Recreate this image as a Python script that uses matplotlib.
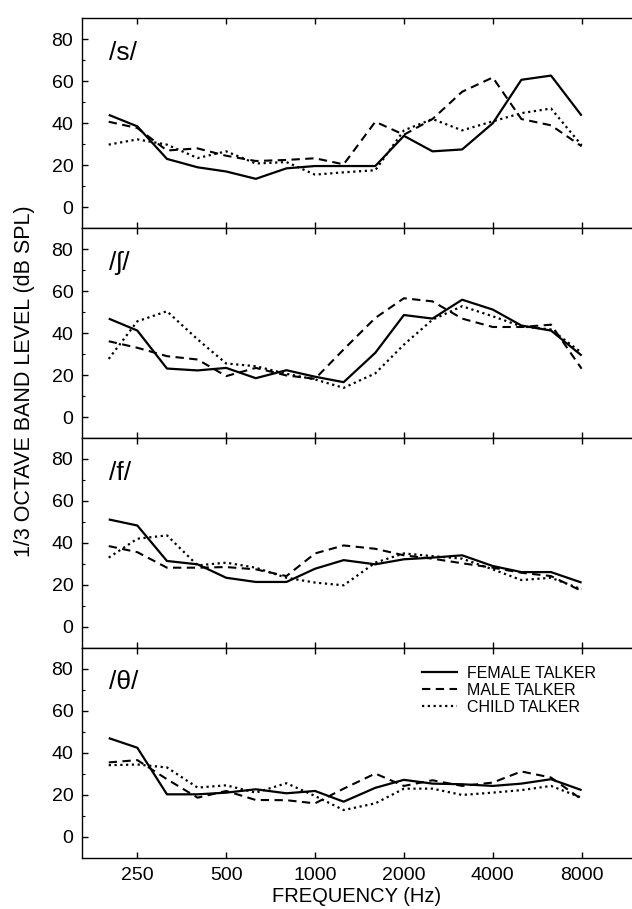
import matplotlib
matplotlib.use("Agg")
import matplotlib.pyplot as plt
from matplotlib.ticker import FixedLocator, NullLocator, NullFormatter
import matplotlib.lines as mlines

plt.rcParams['font.family'] = ['Liberation Sans', 'DejaVu Sans']

freqs = [200, 250, 315, 400, 500, 630, 800, 1000, 1250, 1600, 2000, 2500, 3150, 4000, 5000, 6300, 8000]

panel_labels = ["/s/", "/\u0283/", "/f/", "/\u03b8/"]

female_s = [44, 38.5, 23, 19, 17, 13.5, 18.5, 19.6, 19.6, 19.6, 34, 26.6, 27.5, 40, 60.7, 62.7, 43.6]
male_s = [40.7, 37.7, 27, 28, 24.5, 22, 22.5, 23.3, 20.4, 40.7, 34.5, 42, 55, 61.8, 42, 39, 29]
child_s = [29.8, 32.3, 29.8, 23.4, 26.6, 20.8, 21.5, 15.5, 16.6, 17.6, 36.6, 42, 36.6, 40.9, 44.8, 47, 29.5]

female_sh = [46.9, 41.2, 23.1, 22.2, 23.4, 18.5, 22.3, 19.2, 16.6, 30.6, 48.6, 46.9, 55.9, 51.2, 43.6, 41.2, 29.3]
male_sh = [36.1, 33, 29, 27.4, 19.5, 23.4, 19.8, 18.2, 32.2, 47.2, 56.6, 55.1, 46.9, 42.9, 42.9, 44, 23]
child_sh = [27.7, 45.6, 50.4, 37, 25.5, 24.2, 20.6, 17.9, 13.9, 20.8, 34.5, 46.4, 52.8, 48, 43.2, 41.7, 30.6]

female_f = [51.2, 48.3, 31.4, 29.8, 23.4, 21.4, 21.4, 27.7, 31.8, 29.8, 32.2, 33, 34.1, 29, 26.1, 26.1, 21.1]
male_f = [38.5, 35.6, 28.2, 28.2, 28.5, 27.4, 24.2, 35, 38.8, 37.2, 34.1, 32.5, 30.3, 28.2, 25.8, 24.2, 17.1]
child_f = [33, 42, 43.6, 29.3, 30.6, 28.2, 23.4, 21.1, 19.8, 30.6, 35, 33.7, 32.5, 27.4, 22.3, 23.4, 17.9]

female_th = [47, 42.4, 20.2, 20.2, 21, 22.6, 20.7, 21.8, 16.7, 23.3, 27.1, 25.3, 25, 24.2, 25.3, 27.4, 22.2]
male_th = [35.4, 36.5, 27.4, 18.6, 21.8, 17.5, 17.4, 15.9, 22.9, 30.1, 24.2, 26.9, 24.2, 25.8, 31.1, 28.2, 17.8]
child_th = [34.1, 34.4, 33, 23.4, 24.5, 21, 25.5, 19.4, 12.7, 15.9, 22.9, 22.9, 19.9, 21, 22.2, 24.2, 18.6]

panels = [
    (female_s, male_s, child_s),
    (female_sh, male_sh, child_sh),
    (female_f, male_f, child_f),
    (female_th, male_th, child_th),
]

xticks = [250, 500, 1000, 2000, 4000, 8000]
xticklabels = ["250", "500", "1000", "2000", "4000", "8000"]
yticks = [0, 20, 40, 60, 80]
series_names = ["FEMALE TALKER", "MALE TALKER", "CHILD TALKER"]

W, H = 632, 909
fig = plt.figure(figsize=(W / 100, H / 100), dpi=100)

left = 81.7 / W
width = 1.0 - left
ph = 209.85 / H
bottom0 = 1 - 857.7 / H

styles = [
    dict(linestyle='-', lw=1.6),
    dict(linestyle=(0, (4, 2.6)), lw=1.5),
    dict(linestyle=(0, (1, 1.6)), lw=1.6),
]

axes = []
for i, (data, lab) in enumerate(zip(panels, panel_labels)):
    b = bottom0 + (3 - i) * ph
    ax = fig.add_axes([left, b, width, ph])
    ax.set_xscale('log')
    ax.set_xlim(162, 11850)
    ax.set_ylim(-10, 90)
    for series, st in zip(data, styles):
        ax.plot(freqs, series, color='black', solid_capstyle='butt', **st)
    ax.spines['right'].set_visible(False)
    for s in ['left', 'top', 'bottom']:
        ax.spines[s].set_linewidth(1.0)
    ax.xaxis.set_major_locator(FixedLocator(xticks))
    ax.xaxis.set_minor_locator(NullLocator())
    ax.xaxis.set_minor_formatter(NullFormatter())
    if i == 3:
        ax.set_xticklabels(xticklabels)
    else:
        ax.set_xticklabels([])
    ax.yaxis.set_major_locator(FixedLocator(yticks))
    ax.yaxis.set_minor_locator(FixedLocator([10, 30, 50, 70]))
    ax.tick_params(axis='x', which='major', direction='in', top=True, bottom=True,
                   length=4, width=1.0, labelsize=14, pad=7)
    ax.tick_params(axis='y', which='major', direction='in', left=True, right=False,
                   length=4, width=1.0, labelsize=14, pad=6)
    ax.tick_params(axis='y', which='minor', direction='in', left=True, right=False,
                   length=2.5, width=0.8)
    ax.text(0.05, 0.835, lab, transform=ax.transAxes, fontsize=19,
            ha='left', va='center')
    axes.append(ax)

axes[3].set_xlabel("FREQUENCY (Hz)", fontsize=14.5, labelpad=2)

fig.text(25 / W, 1 - 381 / H, "1/3 OCTAVE BAND LEVEL (dB SPL)", rotation=90,
         ha='center', va='center', fontsize=15.5)

handles = [mlines.Line2D([], [], color='black', **st) for st in styles]
axes[3].legend(handles, series_names, loc='upper left', bbox_to_anchor=(0.618, 0.915),
               frameon=False, fontsize=11.5, handlelength=2.2, handletextpad=0.65,
               labelspacing=0.12, borderpad=0, borderaxespad=0)

fig.savefig("out.png", dpi=100)
